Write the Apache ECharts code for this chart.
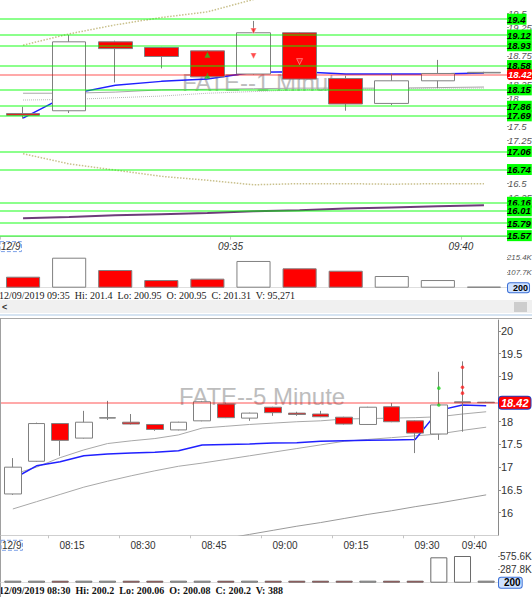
<!DOCTYPE html>
<html>
<head>
<meta charset="utf-8">
<script src="https://cdn.jsdelivr.net/npm/echarts@6/dist/echarts.min.js"></script>
<style>
html, body { margin: 0; padding: 0; background: #fff; }
#chart { width: 532px; height: 597px; }
</style>
</head>
<body>
<div id="chart"></div>
<script>
// ---- 1 minute chart ----
var times1 = ['09:30', '09:31', '09:32', '09:33', '09:34', '09:35', '09:36', '09:37', '09:38', '09:39', '09:40'];
var tickLabels1 = ['12/9', '', '', '', '', '09:35', '', '', '', '', '09:40', ''];
var open1 = [17.73, 17.78, 19.00, 18.90, 18.84, 18.43, 19.16, 18.35, 17.91, 18.31, 18.45];
var close1 = [17.70, 19.00, 18.88, 18.74, 18.38, 19.16, 18.34, 17.90, 18.31, 18.44, 18.46];
var low1 = [17.64, 17.74, 18.28, 18.53, 18.36, 18.42, 18.33, 17.78, 17.88, 18.18, 18.44];
var high1 = [17.85, 19.12, 19.02, 18.91, 18.85, 19.37, 19.17, 18.40, 18.44, 18.68, 18.47];
var volume1 = [79000, 215400, 127000, 55000, 65000, 192000, 139000, 122000, 84000, 55000, 200];
var maBlue1 = [17.65, 18.07, 18.23, 18.30, 18.34, 18.46, 18.47, 18.43, 18.43, 18.43, 18.45];
var maGray1 = [18.09, 18.09, 18.11, 18.15, 18.16, 18.17, 18.18, 18.18, 18.18, 18.19, 18.20];
var maDot1 = [17.97, 17.98, 18.01, 18.04, 18.09, 18.12, 18.15, 18.16, 18.17, 18.18, 18.18];
var bandUp1 = [18.94, 19.14, 19.30, 19.43, 19.53, 19.75, 19.95, 20.10, 20.20, 20.30, 20.35];
var bandLow1 = [17.02, 16.84, 16.73, 16.62, 16.55, 16.47, 16.49, 16.49, 16.48, 16.49, 16.49];
var maLong1 = [15.88, 15.90, 15.93, 15.95, 15.97, 16.00, 16.02, 16.05, 16.07, 16.09, 16.11];
var levels1 = [19.4, 19.12, 18.93, 18.58, 18.15, 17.86, 17.69, 17.06, 16.74, 16.16, 16.01, 15.79, 15.57];
var buys1 = [[4, 18.77], [4, 18.40]];
var sells1 = [[5, 19.19], [5, 18.75], [6, 18.65]];

// ---- 5 minute chart ----
var times5 = ['08:00', '08:05', '08:10', '08:15', '08:20', '08:25', '08:30', '08:35', '08:40', '08:45', '08:50',
  '08:55', '09:00', '09:05', '09:10', '09:15', '09:20', '09:25', '09:30', '09:35', '09:40'];
var tickLabels5 = ['12/9', '', '', '08:15', '', '', '08:30', '', '', '08:45', '', '', '09:00', '', '', '09:15', '', '', '09:30', '', '09:40', ''];
var open5 = [16.41, 17.13, 17.96, 17.64, 18.08, 17.99, 17.94, 17.82, 18.02, 18.39, 18.08, 18.32, 18.19, 18.17, 18.10, 17.94, 18.33, 18.02, 17.73, 18.42, 18.42];
var close5 = [17.00, 17.96, 17.59, 17.99, 18.09, 17.95, 17.83, 17.99, 18.44, 18.09, 18.19, 18.20, 18.16, 18.11, 17.95, 18.32, 18.00, 17.75, 18.37, 18.44, 18.43];
var low5 = [16.39, 17.12, 17.25, 17.63, 18.04, 17.94, 17.80, 17.81, 18.01, 18.08, 18.02, 18.13, 18.13, 18.10, 17.94, 17.93, 17.99, 17.31, 17.60, 17.78, 18.42];
var high5 = [17.20, 17.98, 17.97, 18.24, 18.46, 18.17, 17.95, 18.00, 18.46, 18.42, 18.20, 18.33, 18.22, 18.24, 18.11, 18.33, 18.41, 18.03, 19.10, 19.33, 18.44];
var volume5 = [4200, 5100, 2600, 4800, 2300, 2100, 1900, 2400, 5200, 3100, 2200, 2500, 1800, 2000, 2300, 2600, 2900, 3400, 547000, 575600, 200];
var maBlue5 = [16.74, 17.03, 17.12, 17.25, 17.29, 17.31, 17.33, 17.36, 17.49, 17.50, 17.51, 17.53, 17.54, 17.57, 17.58, 17.59, 17.60, 17.61, 18.25, 18.37, 18.35];
var maGrayA5 = [16.84, 17.00, 17.21, 17.38, 17.52, 17.58, 17.63, 17.71, 17.86, 17.90, 17.94, 17.97, 18.00, 18.02, 18.06, 18.07, 18.08, 18.09, 18.11, 18.17, 18.22];
var maGrayB5 = [16.08, 16.24, 16.40, 16.56, 16.69, 16.81, 16.92, 17.02, 17.09, 17.17, 17.25, 17.33, 17.41, 17.49, 17.57, 17.61, 17.65, 17.69, 17.73, 17.81, 17.88];
var maLong5 = ['-', '-', '-', '-', '-', '-', '-', '-', '-', 15.43, 15.52, 15.61, 15.70, 15.78, 15.87, 15.96, 16.04, 16.13, 16.21, 16.30, 16.39];
var buys5 = [[18, 18.74], [18, 18.37]];
var sells5 = [[19, 19.20], [19, 18.76], [19, 18.63]];

var lastPrice = 18.42;
var lastVolume = 200;
var info1 = '12/09/2019 09:35  Hi: 201.4  Lo: 200.95  O: 200.95  C: 201.31  V: 95,271';
var info5 = '12/09/2019 08:30  Hi: 200.2  Lo: 200.06  O: 200.08  C: 200.2  V: 388';

var UP = '#ffffff', DOWN = '#ff0000', EDGE = '#808080';

function ohlc(o, c, l, h) {
  return o.map(function (v, i) { return [o[i], c[i], l[i], h[i]]; });
}
function volBars(vol, o, c) {
  return vol.map(function (v, i) {
    return { value: v, itemStyle: { color: c[i] < o[i] ? DOWN : UP } };
  });
}
function maLine(x, y, data, color, width, type) {
  return {
    type: 'line', xAxisIndex: x, yAxisIndex: y, data: data, symbol: 'none', silent: true, z: 2,
    lineStyle: { color: color, width: width, type: type || 'solid' }
  };
}
// price labels that sit under a level tag are not drawn
function priceLabel(levels) {
  return function (v) {
    var all = levels.concat([lastPrice]);
    for (var i = 0; i < all.length; i++) {
      if (Math.abs(all[i] - v) < 0.085) return '';
    }
    return String(+v.toFixed(2));
  };
}
function levelLines(levels) {
  var out = levels.map(function (v) { return { yAxis: v }; });
  out.push({
    yAxis: lastPrice,
    lineStyle: { color: 'rgba(255,0,0,0.45)', width: 1.5, type: 'solid' },
    label: { backgroundColor: '#ff0000', color: '#fff', borderRadius: 3, fontSize: 9.5, padding: [1, 1, 0, 1] }
  });
  return out;
}
function volLabel(fs) {
  return {
    silent: true, symbol: ['none', 'none'],
    lineStyle: { color: 'rgba(0,0,0,0)', width: 1 },
    label: {
      show: true, position: 'end', distance: 1, formatter: String(lastVolume), color: '#000', fontWeight: 'bold',
      fontSize: fs, backgroundColor: '#cfe2ff', borderColor: '#3b6fd6', borderWidth: 1, borderRadius: 2, padding: [0, 1, 0, 5]
    },
    data: [{ yAxis: lastVolume }]
  };
}
function timeAxis(grid, labels, italic, tickFn) {
  return {
    type: 'category', gridIndex: grid, data: labels, boundaryGap: false, position: 'bottom', offset: grid === 0 ? -3 : 0,
    axisLine: { lineStyle: { color: '#cfcfcf' } },
    axisTick: { show: true, length: 3, interval: tickFn, lineStyle: { color: '#c4c4c4' } },
    splitLine: { show: false },
    axisLabel: {
      interval: 0, margin: 5, fontSize: 10, color: '#333', fontStyle: italic ? 'italic' : 'normal',
      fontFamily: 'Liberation Sans', alignMinLabel: 'left',
      formatter: function (v, i) { return i === 0 ? '{d|' + v + '}' : v; },
      rich: { d: { color: '#333', fontSize: 10, fontStyle: italic ? 'italic' : 'normal', borderColor: '#7da2e8', borderWidth: 1, borderType: 'dashed', padding: [0, 1, 0, 1] } }
    }
  };
}

var chart = echarts.init(document.getElementById('chart'), null, { renderer: 'svg' });

chart.setOption({
  animation: false,
  backgroundColor: '#fff',
  textStyle: { fontFamily: 'Liberation Sans' },
  grid: [
    { left: 0, top: 0, width: 507, height: 239.6, outerBoundsMode: 'none' },
    { left: 0, top: 257.7, width: 507, height: 30, outerBoundsMode: 'none' },
    { left: 1, top: 320, width: 497, height: 215.3, outerBoundsMode: 'none' },
    { left: 1, top: 556, width: 497, height: 26.7, outerBoundsMode: 'none' }
  ],
  xAxis: [
    { type: 'category', gridIndex: 0, data: times1, show: false, position: 'bottom', boundaryGap: true },
    timeAxis(0, tickLabels1, true, function (i, v) { return v !== ''; }),
    { type: 'category', gridIndex: 1, data: times1, position: 'top', offset: 2, boundaryGap: true,
      axisLine: { lineStyle: { color: '#dedede' } }, axisTick: { show: false }, axisLabel: { show: false } },
    { type: 'category', gridIndex: 2, data: times5, show: false, position: 'bottom', boundaryGap: true },
    timeAxis(2, tickLabels5, false, function (i) { return i % 3 === 2; }),
    { type: 'category', gridIndex: 3, data: times5, position: 'top', offset: 3, boundaryGap: true,
      axisLine: { lineStyle: { color: '#dedede' } }, axisTick: { show: false }, axisLabel: { show: false } }
  ],
  yAxis: [
    { type: 'value', gridIndex: 0, position: 'right', min: 15.5, max: 19.74, interval: 0.25, scale: true,
      axisLine: { show: false }, axisTick: { show: true, length: 2, lineStyle: { color: '#999' } }, splitLine: { show: false },
      axisLabel: { margin: 1, fontSize: 9.5, color: '#555', fontStyle: 'italic', showMaxLabel: false, showMinLabel: false,
        formatter: priceLabel(levels1) } },
    { type: 'value', gridIndex: 1, position: 'right', min: 0, max: 215400, interval: 107700,
      axisLine: { show: false }, axisTick: { show: true, length: 1, lineStyle: { color: '#999' } }, splitLine: { show: false },
      axisLabel: { margin: 0, fontSize: 7.8, color: '#555', fontStyle: 'italic', showMinLabel: false,
        formatter: function (v) { return (v / 1000).toFixed(1) + 'K'; } } },
    { type: 'value', gridIndex: 2, position: 'right', min: 15.5, max: 20.24, interval: 0.5, scale: true,
      axisLine: { show: true, lineStyle: { color: '#8a8a8a' } }, axisTick: { show: true, length: 3, lineStyle: { color: '#8a8a8a' } },
      splitLine: { show: false },
      axisLabel: { margin: 3, fontSize: 11, color: '#333', showMaxLabel: false, showMinLabel: false,
        formatter: priceLabel([]) } },
    { type: 'value', gridIndex: 3, position: 'right', min: 0, max: 575600, interval: 287800,
      axisLine: { show: false }, axisTick: { show: true, length: 2, lineStyle: { color: '#999' } }, splitLine: { show: false },
      axisLabel: { margin: 2, fontSize: 10, color: '#333', showMinLabel: false,
        formatter: function (v) { return (v / 1000).toFixed(1) + 'K'; } } }
  ],
  series: [
    // 1 minute: averages and bands under the candles
    maLine(0, 0, bandUp1, '#c9c08c', 1.5, 'dotted'),
    maLine(0, 0, bandLow1, '#c9c08c', 1.5, 'dotted'),
    maLine(0, 0, maLong1, '#6c3c78', 2),
    maLine(0, 0, maDot1, '#b8b8b8', 1, 'dotted'),
    maLine(0, 0, maGray1, '#a8a8a8', 1),
    maLine(0, 0, maBlue1, '#2020ff', 1.5),
    {
      type: 'candlestick', xAxisIndex: 0, yAxisIndex: 0, barWidth: '74%', z: 3, silent: true,
      data: ohlc(open1, close1, low1, high1),
      itemStyle: { color: UP, color0: DOWN, borderColor: EDGE, borderColor0: EDGE, borderColorDoji: EDGE, borderWidth: 1 },
      markLine: {
        silent: true, symbol: ['none', 'none'],
        lineStyle: { color: 'rgba(0,255,0,0.45)', width: 2, type: 'solid' },
        label: {
          position: 'end', distance: 0, formatter: function (p) { return String(p.value); },
          backgroundColor: '#00ff00', color: '#000', fontWeight: 'bold', fontStyle: 'italic', fontSize: 9.5,
          padding: [1, 1, 0, 0]
        },
        data: levelLines(levels1)
      }
    },
    { type: 'scatter', xAxisIndex: 0, yAxisIndex: 0, data: buys1, symbol: 'triangle', symbolSize: 6, z: 4, silent: true,
      itemStyle: { color: '#22c322' } },
    { type: 'scatter', xAxisIndex: 0, yAxisIndex: 0, data: sells1, symbol: 'triangle', symbolRotate: 180, symbolSize: 6, z: 4, silent: true,
      itemStyle: { color: '#ff2020', borderColor: '#fff', borderWidth: 0.5 } },
    { type: 'bar', xAxisIndex: 2, yAxisIndex: 1, data: volBars(volume1, open1, close1), barWidth: '74%', barMinHeight: 1, silent: true,
      itemStyle: { borderColor: EDGE, borderWidth: 1 }, markLine: volLabel(9) },

    // 5 minute
    maLine(3, 2, maLong5, '#9a9a9a', 1),
    maLine(3, 2, maGrayB5, '#a8a8a8', 1),
    maLine(3, 2, maGrayA5, '#a8a8a8', 1),
    maLine(3, 2, maBlue5, '#2020ff', 1.5),
    {
      type: 'candlestick', xAxisIndex: 3, yAxisIndex: 2, barWidth: '72%', z: 3, silent: true,
      data: ohlc(open5, close5, low5, high5),
      itemStyle: { color: UP, color0: DOWN, borderColor: EDGE, borderColor0: EDGE, borderColorDoji: EDGE, borderWidth: 1 },
      markLine: {
        silent: true, symbol: ['none', 'none'],
        label: { position: 'end', distance: 1, fontWeight: 'bold', fontStyle: 'italic', formatter: function (p) { return String(p.value); } },
        data: [{
          yAxis: lastPrice,
          lineStyle: { color: 'rgba(255,0,0,0.45)', width: 1.5, type: 'solid' },
          label: { backgroundColor: '#ff0000', color: '#fff', borderColor: '#2040c0', borderWidth: 1, borderRadius: 3, fontSize: 11, padding: [1, 2, 0, 2] }
        }]
      }
    },
    { type: 'scatter', xAxisIndex: 3, yAxisIndex: 2, data: buys5, symbol: 'circle', symbolSize: 3.5, z: 4, silent: true,
      itemStyle: { color: '#22d322' } },
    { type: 'scatter', xAxisIndex: 3, yAxisIndex: 2, data: sells5, symbol: 'circle', symbolSize: 3.5, z: 4, silent: true,
      itemStyle: { color: '#ff2020' } },
    { type: 'bar', xAxisIndex: 5, yAxisIndex: 3, data: volBars(volume5, open5, close5), barWidth: '72%', barMinHeight: 2, silent: true,
      itemStyle: { borderColor: '#6a6a6a', borderWidth: 1 }, markLine: volLabel(10) }
  ],
  graphic: [
    // watermarks
    { type: 'text', x: 265, y: 82, z: 1, silent: true,
      style: { text: 'FATE--1 Minute', fill: '#bdbdbd', font: '24px "Liberation Sans"', align: 'center', verticalAlign: 'middle' } },
    { type: 'text', x: 262, y: 396, z: 1, silent: true,
      style: { text: 'FATE--5 Minute', fill: '#bdbdbd', font: '24px "Liberation Sans"', align: 'center', verticalAlign: 'middle' } },
    // info lines
    { type: 'text', x: -1, y: 295, silent: true,
      style: { text: info1, fill: '#1a1a1a', font: '10px "Liberation Serif"', verticalAlign: 'middle' } },
    { type: 'text', x: -1, y: 590, silent: true,
      style: { text: info5, fill: '#111', font: 'bold 10px "Liberation Serif"', verticalAlign: 'middle' } },
    // scroll bar between the two panels
    { type: 'rect', silent: true, shape: { x: 0, y: 300, width: 532, height: 13 }, style: { fill: '#f0f0f0' } },
    { type: 'rect', silent: true, shape: { x: 514, y: 302, width: 13, height: 10 }, style: { fill: '#cdcdcd' } },
    { type: 'text', x: 2, y: 307, silent: true,
      style: { text: '<', fill: '#333', font: 'bold 9px "Liberation Sans"', verticalAlign: 'middle' } },
    { type: 'line', silent: true, shape: { x1: 0, y1: 315, x2: 532, y2: 315 }, style: { stroke: '#d6e4f2', lineWidth: 2 } },
    { type: 'line', silent: true, shape: { x1: 0, y1: 318.5, x2: 532, y2: 318.5 }, style: { stroke: '#a8a8a8', lineWidth: 1 } },
    { type: 'line', silent: true, shape: { x1: 0.5, y1: 318, x2: 0.5, y2: 597 }, style: { stroke: '#a0a0a0', lineWidth: 1 } }
  ]
});
</script>
</body>
</html>
